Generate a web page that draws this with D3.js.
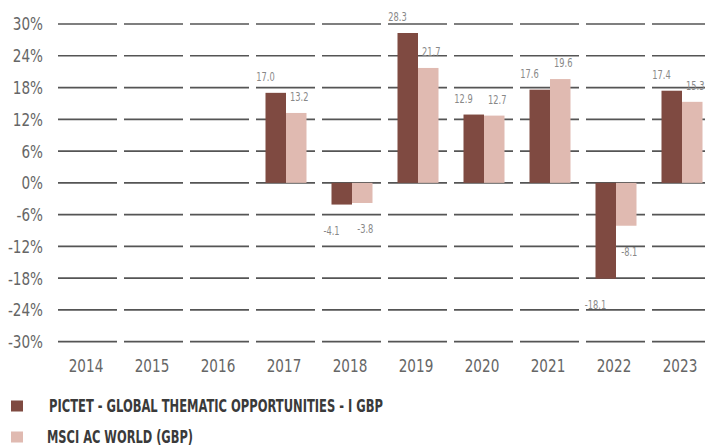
<!DOCTYPE html>
<html>
<head>
<meta charset="utf-8">
<script src="https://cdn.jsdelivr.net/npm/d3@7"></script>
<style>
  body { margin: 0; background: #fff; }
  svg { display: block; font-family: "DejaVu Sans Condensed", "Liberation Sans Narrow", sans-serif; }
</style>
</head>
<body>
<svg id="chart" width="705" height="446"></svg>
<script>
// data
const years = ['2014', '2015', '2016', '2017', '2018', '2019', '2020', '2021', '2022', '2023'];
const fundValues = [null, null, null, 17.0, -4.1, 28.3, 12.9, 17.6, -18.1, 17.4];
const indexValues = [null, null, null, 13.2, -3.8, 21.7, 12.7, 19.6, -8.1, 15.3];
const yTicks = [30, 24, 18, 12, 6, 0, -6, -12, -18, -24, -30];
const seriesNames = ['PICTET - GLOBAL THEMATIC OPPORTUNITIES - I GBP', 'MSCI AC WORLD (GBP)'];
const seriesColors = ['#7f4a41', '#e0bab1'];

const svg = d3.select('#chart');

const x = d3.scaleBand().domain(years).range([55, 715]);
const y = d3.scaleLinear().domain([-30, 30]).range([341.7, 24]);
const barW = 20.5;

// condensed look: squeeze text horizontally around its anchor
const squeeze = (sx) => (px, py) => `translate(${px},${py}) scale(${sx},1)`;
const axisText = squeeze(0.84);
const valueText = squeeze(0.8);

// grid lines, segmented per category
const grid = svg.append('g').attr('class', 'grid');
yTicks.forEach(t => {
    grid.selectAll(null)
        .data(years)
        .join('line')
        .attr('x1', d => x(d) + 3)
        .attr('x2', d => x(d) + x.bandwidth() - 4)
        .attr('y1', y(t))
        .attr('y2', y(t))
        .attr('stroke', '#555')
        .attr('stroke-width', 1.7);
});

// y tick labels
svg.append('g').selectAll('text')
    .data(yTicks)
    .join('text')
    .attr('transform', d => axisText(43, y(d)))
    .attr('dy', '0.36em')
    .attr('text-anchor', 'end')
    .attr('font-size', 18)
    .attr('fill', '#666')
    .text(d => d + '%');

// x labels
svg.append('g').selectAll('text')
    .data(years)
    .join('text')
    .attr('transform', d => axisText(x(d) + x.bandwidth() / 2 - 2, 366))
    .attr('dy', '0.36em')
    .attr('text-anchor', 'middle')
    .attr('font-size', 18)
    .attr('fill', '#666')
    .text(d => d);

// bars
const series = [fundValues, indexValues];
series.forEach((vals, s) => {
    const rows = years.map((yr, i) => ({ year: yr, value: vals[i] })).filter(d => d.value != null);
    const bx = d => x(d.year) + x.bandwidth() / 2 - barW + s * barW;

    svg.append('g').selectAll('rect')
        .data(rows)
        .join('rect')
        .attr('x', bx)
        .attr('y', d => y(Math.max(0, d.value)))
        .attr('width', barW)
        .attr('height', d => Math.abs(y(d.value) - y(0)))
        .attr('fill', seriesColors[s]);

    // value labels
    svg.append('g').selectAll('text')
        .data(rows)
        .join('text')
        .attr('transform', d => valueText(
            s === 0 ? bx(d) : bx(d) + barW / 2 + 3,
            d.value >= 0 ? y(d.value) - 12 : y(d.value) + 30))
        .attr('text-anchor', 'middle')
        .attr('font-size', 11.5)
        .attr('fill', '#888')
        .text(d => d.value.toFixed(1));
});

// legend
const legend = svg.append('g').attr('class', 'legend');
seriesNames.forEach((name, i) => {
    const ly = 406 + i * 31;
    legend.append('rect')
        .attr('x', 11)
        .attr('y', ly - 5.5)
        .attr('width', 12)
        .attr('height', 11)
        .attr('fill', seriesColors[i]);
    legend.append('text')
        .attr('x', i === 0 ? 49 : 47)
        .attr('y', ly)
        .attr('dy', '0.36em')
        .attr('font-size', 18)
        .attr('font-weight', 'bold')
        .attr('fill', '#3a3a3a')
        .attr('textLength', i === 0 ? 334 : 146)
        .attr('lengthAdjust', 'spacingAndGlyphs')
        .text(name);
});
</script>
</body>
</html>
